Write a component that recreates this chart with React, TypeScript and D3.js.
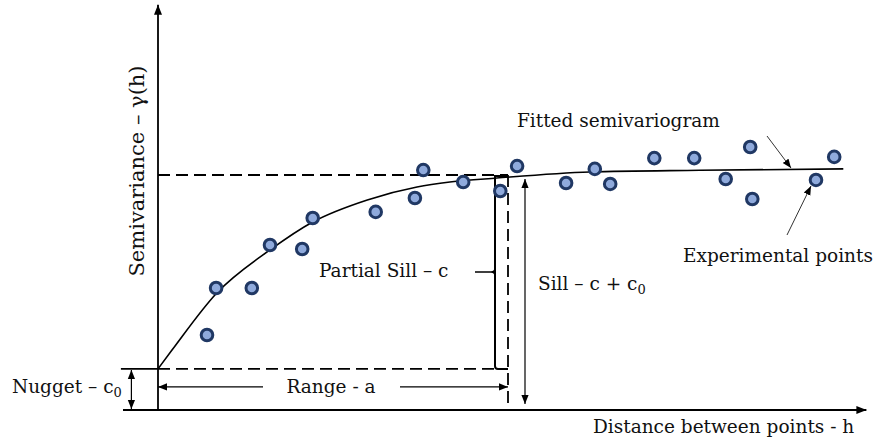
import React, { useRef, useEffect } from 'react'
import * as d3 from 'd3'

// fitted model and experimental points (x: distance, y: semivariance)
const curveH = [0, 2, 8.4, 16, 22.1, 29.9, 37, 41.7, 48.4, 61.7, 77.4, 97.9]
const curveG = [17.5, 25.5, 49.8, 68.1, 80, 89.4, 94.9, 97, 98.7, 101.3, 102, 102.6]

const pointH = [7.0, 8.3, 13.4, 16.0, 20.6, 22.1, 31.1, 36.7, 37.9, 43.6, 48.9, 51.3, 58.3, 62.4, 64.6, 70.9, 76.6, 81.1, 84.6, 84.9, 94.0, 96.6]
const pointG = [31.9, 51.9, 51.9, 70.2, 68.5, 81.7, 84.3, 90.2, 102.1, 97.0, 93.2, 103.8, 96.6, 102.6, 96.2, 107.2, 107.2, 98.3, 111.9, 89.8, 97.9, 107.7]

const nugget = 17.5
const sill = 100
const range = 50

const W = 879
const H = 445
const FONT = '"DejaVu Serif", serif'
const FS = 18.5

const App = () => {
  const svgRef = useRef(null)

  useEffect(() => {
    const x = d3.scaleLinear().domain([0, 100]).range([158, 858])
    const y = d3.scaleLinear().domain([0, 100]).range([410, 175])

    const svg = d3.select(svgRef.current)
    svg.selectAll('*').remove()

    const defs = svg.append('defs')
    const mk = (id, size) =>
      defs
        .append('marker')
        .attr('id', id)
        .attr('viewBox', '0 0 10 10')
        .attr('refX', 10)
        .attr('refY', 5)
        .attr('markerWidth', size)
        .attr('markerHeight', size)
        .attr('markerUnits', 'userSpaceOnUse')
        .attr('orient', 'auto-start-reverse')
        .append('path')
        .attr('d', 'M0,1 L10,5 L0,9 Z')
        .attr('fill', '#000')
    mk('arr', 10)
    mk('arrS', 9)

    const x0 = x(0)
    const y0 = y(0)
    const xR = x(range)
    const yN = y(nugget)
    const yS = y(sill)

    // axes
    svg.append('line')
      .attr('x1', x0).attr('x2', x0).attr('y1', y0).attr('y2', y(172.5))
      .attr('stroke', '#000').attr('stroke-width', 1.8).attr('marker-end', 'url(#arr)')
    svg.append('line')
      .attr('x1', x(-5)).attr('x2', x(101.2)).attr('y1', y0).attr('y2', y0)
      .attr('stroke', '#000').attr('stroke-width', 1.8).attr('marker-end', 'url(#arr)')

    // nugget tick
    svg.append('line')
      .attr('x1', x(-5.3)).attr('x2', x0).attr('y1', yN).attr('y2', yN)
      .attr('stroke', '#000').attr('stroke-width', 1.8)
    svg.append('line')
      .attr('x1', x(-3.8)).attr('x2', x(-3.8)).attr('y1', yN + 1).attr('y2', y0 - 1)
      .attr('stroke', '#000').attr('stroke-width', 1.2)
      .attr('marker-start', 'url(#arrS)').attr('marker-end', 'url(#arrS)')

    // dashed guide lines
    const dash = '12,6'
    svg.append('line')
      .attr('x1', x0).attr('x2', xR).attr('y1', yS).attr('y2', yS)
      .attr('stroke', '#000').attr('stroke-width', 1.8).attr('stroke-dasharray', dash)
    svg.append('line')
      .attr('x1', x0).attr('x2', xR).attr('y1', yN).attr('y2', yN)
      .attr('stroke', '#000').attr('stroke-width', 1.8).attr('stroke-dasharray', dash)
    svg.append('line')
      .attr('x1', xR).attr('x2', xR).attr('y1', yS).attr('y2', y0)
      .attr('stroke', '#000').attr('stroke-width', 1.8).attr('stroke-dasharray', dash)

    // partial sill bracket
    const xb = xR - 13
    svg.append('path')
      .attr('d', `M${xR},${yS + 1} H${xb} V${yN - 3} Q${xb},${yN} ${xb + 3},${yN} H${xR}`)
      .attr('fill', 'none').attr('stroke', '#000').attr('stroke-width', 2)
    const ym = (yS + yN) / 2
    svg.append('path')
      .attr('d', `M${xb - 20},${ym} H${xb - 4} Q${xb},${ym} ${xb},${ym - 4} M${xb - 4},${ym} Q${xb},${ym} ${xb},${ym + 4}`)
      .attr('fill', 'none').attr('stroke', '#000').attr('stroke-width', 1.5)

    // sill arrow
    svg.append('line')
      .attr('x1', xR + 17).attr('x2', xR + 17).attr('y1', yS + 4).attr('y2', y0 - 6)
      .attr('stroke', '#000').attr('stroke-width', 1.2)
      .attr('marker-start', 'url(#arrS)').attr('marker-end', 'url(#arrS)')

    // range arrows
    const yRg = y(9.8)
    svg.append('line')
      .attr('x1', 263).attr('x2', x0).attr('y1', yRg).attr('y2', yRg)
      .attr('stroke', '#000').attr('stroke-width', 1.2).attr('marker-end', 'url(#arrS)')
    svg.append('line')
      .attr('x1', 400).attr('x2', xR).attr('y1', yRg).attr('y2', yRg)
      .attr('stroke', '#000').attr('stroke-width', 1.2).attr('marker-end', 'url(#arrS)')

    // fitted curve
    const line = d3.line().x(d => x(d[0])).y(d => y(d[1])).curve(d3.curveMonotoneX)
    svg.append('path')
      .attr('d', line(curveH.map((h, i) => [h, curveG[i]])))
      .attr('fill', 'none').attr('stroke', '#000').attr('stroke-width', 1.6)

    // experimental points
    svg.selectAll('.pt')
      .data(pointH.map((h, i) => [h, pointG[i]]))
      .enter()
      .append('circle')
      .attr('cx', d => x(d[0])).attr('cy', d => y(d[1])).attr('r', 5.8)
      .attr('fill', '#8faadc').attr('stroke', '#203864').attr('stroke-width', 3)

    // pointers
    svg.append('line')
      .attr('x1', 767).attr('y1', 136).attr('x2', 791).attr('y2', 168)
      .attr('stroke', '#333').attr('stroke-width', 1).attr('marker-end', 'url(#arrS)')
    svg.append('line')
      .attr('x1', 787).attr('y1', 235).attr('x2', 811).attr('y2', 186)
      .attr('stroke', '#333').attr('stroke-width', 1).attr('marker-end', 'url(#arrS)')

    // labels
    const txt = (tx, ty, s, anchor = 'start') =>
      svg.append('text').attr('x', tx).attr('y', ty).attr('text-anchor', anchor)
        .attr('font-family', FONT).attr('font-size', FS).attr('fill', '#111').text(s)

    txt(517, 127, 'Fitted semivariogram')
    txt(683, 262, 'Experimental points')
    txt(593, 433, 'Distance between points - h')
    txt(319, 277, 'Partial Sill – c')
    txt(331, 393, 'Range - a', 'middle')

    const sub = (tx, ty, s) => {
      const t = txt(tx, ty, s)
      t.append('tspan').attr('font-size', 13).attr('dy', 4).text('0')
      return t
    }
    sub(538, 290, 'Sill – c + c')
    sub(12, 393, 'Nugget – c')

    svg.append('text')
      .attr('transform', `translate(144,171) rotate(-90)`)
      .attr('text-anchor', 'middle')
      .attr('font-family', FONT).attr('font-size', 21).attr('fill', '#111')
      .text('Semivariance – γ(h)')
  }, [])

  return (
    <svg ref={svgRef} width={W} height={H}
      style={{ position: 'absolute', left: 0, top: 0, background: '#fff' }} />
  )
}

export default App
